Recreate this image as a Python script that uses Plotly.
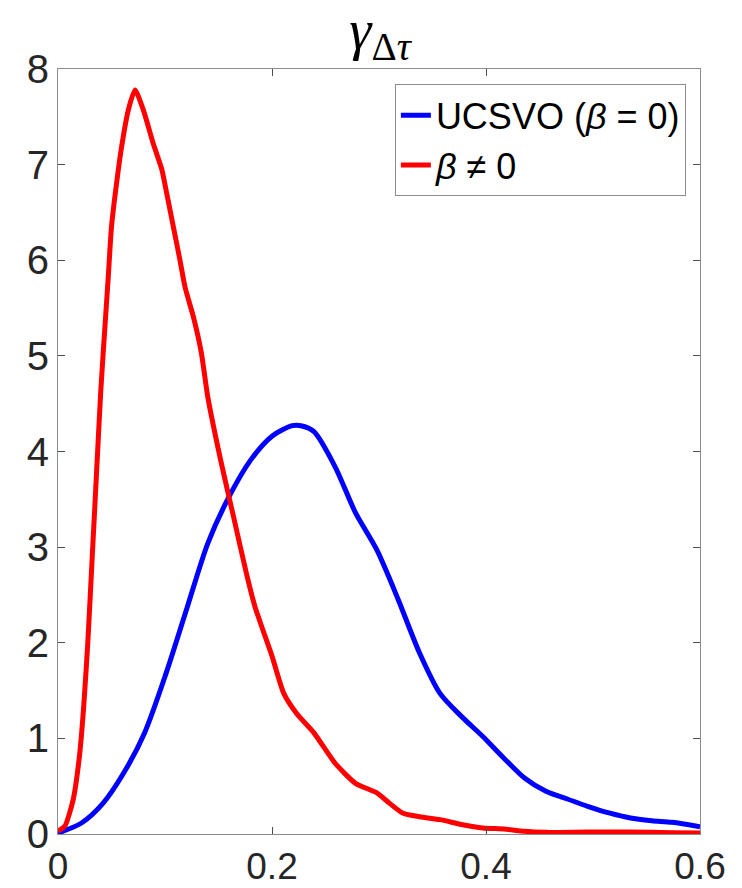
import plotly.graph_objects as go

blue_x = [0, 0.022, 0.042, 0.0615, 0.081, 0.101, 0.121, 0.140, 0.160, 0.180, 0.200, 0.219, 0.227, 0.239,
          0.259, 0.278, 0.298, 0.318, 0.338, 0.357, 0.377, 0.397, 0.417, 0.436, 0.456, 0.476, 0.495,
          0.515, 0.535, 0.555, 0.574, 0.600]
blue_y = [0.01, 0.115, 0.32, 0.64, 1.06, 1.68, 2.38, 3.04, 3.53, 3.91, 4.16, 4.27, 4.27, 4.21,
          3.84, 3.36, 2.97, 2.45, 1.89, 1.47, 1.23, 1.02, 0.79, 0.585, 0.446, 0.366, 0.29,
          0.22, 0.167, 0.139, 0.122, 0.075]

red_x = [0, 0.0063, 0.0142, 0.020, 0.024, 0.028, 0.032, 0.036, 0.040, 0.0439, 0.047, 0.050, 0.0548,
         0.0595, 0.0657, 0.072, 0.0798, 0.089, 0.097, 0.1016, 0.1078, 0.114, 0.1187, 0.1265, 0.134,
         0.140, 0.152, 0.164, 0.176, 0.184, 0.200, 0.211, 0.223, 0.239, 0.259, 0.278, 0.298, 0.310,
         0.322, 0.338, 0.357, 0.377, 0.397, 0.417, 0.436, 0.456, 0.495, 0.535, 0.574, 0.600]
red_y = [0.03, 0.08, 0.36, 0.81, 1.33, 2.03, 2.90, 3.77, 4.64, 5.31, 5.83, 6.35, 6.81,
         7.19, 7.57, 7.78, 7.57, 7.22, 6.95, 6.70, 6.35, 6.0, 5.72, 5.41, 5.03,
         4.57, 3.91, 3.32, 2.73, 2.38, 1.86, 1.47, 1.26, 1.06, 0.74, 0.53, 0.43, 0.32,
         0.22, 0.18, 0.15, 0.10, 0.063, 0.052, 0.028, 0.017, 0.02, 0.02, 0.014, 0.01]

x_ticks = [0, 0.2, 0.4, 0.6]
x_labels = ["0", "0.2", "0.4", "0.6"]
y_ticks = [0, 1, 2, 3, 4, 5, 6, 7, 8]

fig = go.Figure()
fig.add_trace(go.Scatter(x=blue_x, y=blue_y, mode="lines", name="UCSVO (<i>β</i> = 0)",
                         line=dict(color="#0000ff", width=5, shape="spline", smoothing=0.8)))
fig.add_trace(go.Scatter(x=red_x, y=red_y, mode="lines", name="<i>β</i> ≠ 0",
                         line=dict(color="#ff0000", width=5, shape="spline", smoothing=0.6)))

axis_common = dict(showgrid=False, zeroline=False, showline=True, linecolor="#8c8c8c", linewidth=1,
                   mirror="ticks", ticks="inside", ticklen=7, tickcolor="#4d4d4d", automargin=False)

fig.update_layout(
    width=742, height=888,
    margin=dict(l=58, r=42, t=69, b=54),
    paper_bgcolor="white", plot_bgcolor="white",
    title=dict(text="<i>γ</i><sub>Δ<i>τ</i></sub>", x=380 / 742, xanchor="center",
               y=1 - 29 / 888, yanchor="middle", automargin=False,
               font=dict(family="Liberation Serif, DejaVu Serif, serif", size=56, color="black")),
    xaxis=dict(range=[0, 0.6], tickvals=x_ticks, ticktext=x_labels,
               tickfont=dict(family="Liberation Sans, Arial, sans-serif", size=37, color="#262626"),
               **axis_common),
    yaxis=dict(range=[0, 8], tickvals=y_ticks,
               tickfont=dict(family="Liberation Sans, Arial, sans-serif", size=40, color="#262626"),
               **axis_common),
    legend=dict(x=0.978, y=0.98, xanchor="right", yanchor="top",
                bgcolor="white", bordercolor="#8c8c8c", borderwidth=1,
                font=dict(family="Liberation Sans, Arial, sans-serif", size=36, color="black"),
                tracegroupgap=0, itemwidth=30),
    showlegend=True,
)

fig.write_html("out.html")
